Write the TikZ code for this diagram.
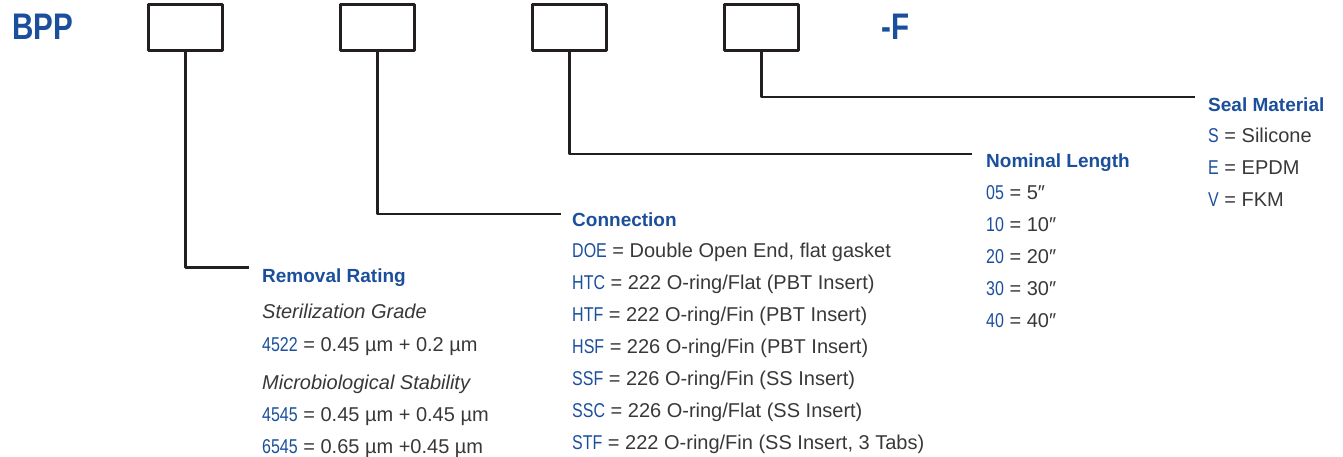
\documentclass[tikz,border=0pt]{standalone}
\usepackage{fontspec}
\setmainfont{Liberation Sans}
\newfontfamily\codefont[FakeStretch=0.8]{Liberation Sans}
\newfontfamily\titlefont[FakeStretch=0.8]{Liberation Sans}
\definecolor{codeblue}{HTML}{1B4F9C}
\definecolor{txtgray}{HTML}{383838}
\definecolor{linegray}{HTML}{231F20}
\newcommand{\cd}[2]{{\codefont\color{codeblue}#1} = #2}
\begin{document}
\begin{tikzpicture}[x=1pt, y=-1pt, line cap=round, line join=round, font=\fontsize{20}{23}\selectfont]
			\tikzset{codebox/.style={draw=linegray, line width=3pt, minimum width=74pt, minimum height=46pt, inner sep=0pt},
				conn/.style={draw=linegray, line width=2.5pt, line cap=butt},
				title/.style={anchor=base west, inner sep=0pt, text=codeblue, font=\fontsize{37}{40}\selectfont\titlefont\bfseries},
				head/.style={anchor=base west, inner sep=0pt, text=codeblue, font=\fontsize{19}{22}\selectfont\bfseries},
				item/.style={anchor=base west, inner sep=0pt, text=txtgray}}
			\useasboundingbox (0,0) rectangle (1343,456);
			\node[title] (bpp) at (12,39.5) {BPP};
			\node[title] (fsuf) at (881,39.5) {-F};
			\foreach \i in {1,...,4}
				\node[codebox] (b\i) at ({185.5+192*(\i-1)},27.5) {};
			\node[head] (rr) at (262,282) {Removal Rating};
			\node[head] (cn) at (572,226) {Connection};
			\node[head] (nl) at (986,167) {Nominal Length};
			\node[head] (sm) at (1208,111) {Seal Material};
			\coordinate (e1) at (249,267.5);
			\coordinate (e2) at (561,214);
			\coordinate (e3) at (972,154);
			\coordinate (e4) at (1195,97);
			\foreach \i in {1,...,4}
				\draw[conn] (b\i.south) |- (e\i);
			\node[item] (rr1) at (262,318) {\itshape Sterilization Grade};
			\node[item] (rr2) at (262,351) {\cd{4522}{0.45 µm + 0.2 µm}};
			\node[item] (rr3) at (262,389) {\itshape Microbiological Stability};
			\node[item] (rr4) at (262,421) {\cd{4545}{0.45 µm + 0.45 µm}};
			\node[item] (rr5) at (262,453) {\cd{6545}{0.65 µm +0.45 µm}};
			\foreach \c/\t [count=\i] in {DOE/{Double Open End, flat gasket}, HTC/{222 O-ring/Flat (PBT Insert)}, HTF/{222 O-ring/Fin (PBT Insert)}, HSF/{226 O-ring/Fin (PBT Insert)}, SSF/{226 O-ring/Fin (SS Insert)}, SSC/{226 O-ring/Flat (SS Insert)}, STF/{222 O-ring/Fin (SS Insert, 3 Tabs)}}
				\node[item] (cn\i) at (572,{225+32*\i}) {\cd{\c}{\t}};
			\foreach \c/\t [count=\i] in {05/5″, 10/10″, 20/20″, 30/30″, 40/40″}
				\node[item] (nl\i) at (986,{167+32*\i}) {\cd{\c}{\t}};
			\foreach \c/\t [count=\i] in {S/Silicone, E/EPDM, V/FKM}
				\node[item] (sm\i) at (1208,{110+32*\i}) {\cd{\c}{\t}};
		\end{tikzpicture}
\end{document}
